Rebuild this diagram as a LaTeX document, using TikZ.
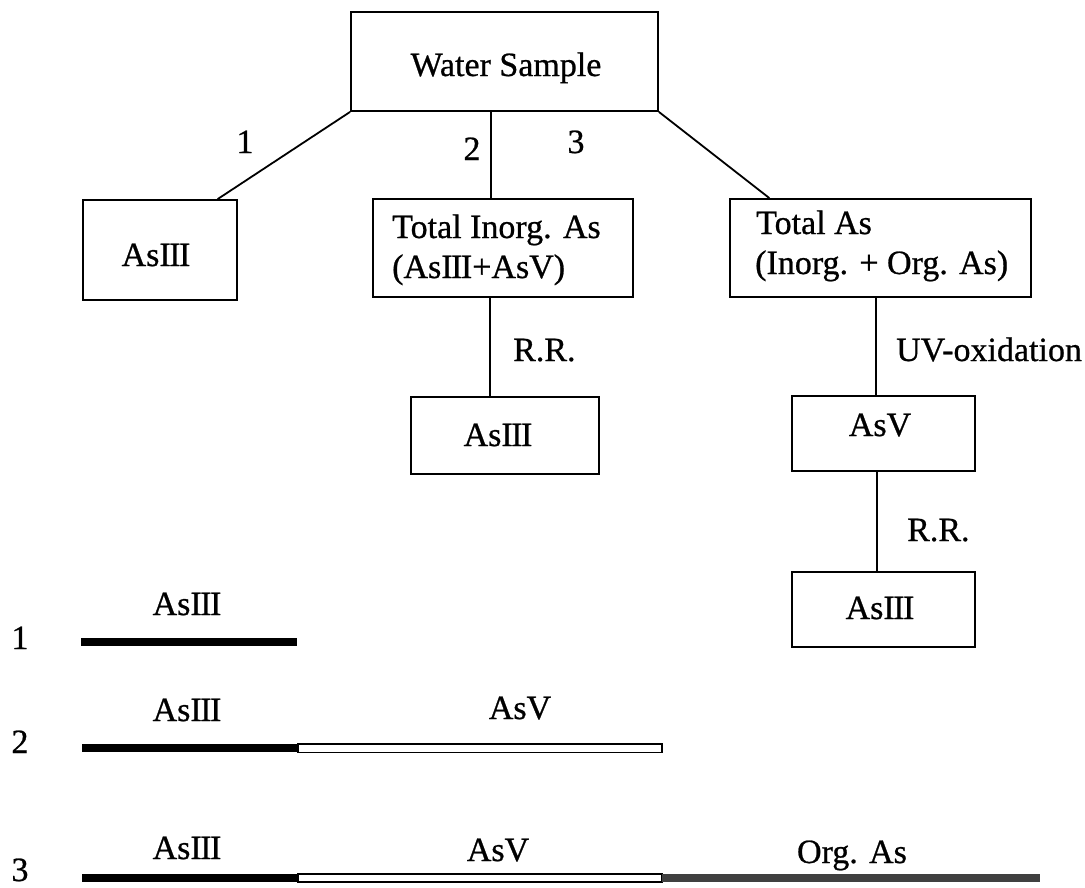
\documentclass[tikz,border=0pt]{standalone}
\usepackage{fontspec}
\setmainfont{Liberation Serif}[FakeBold=0.7]
\usetikzlibrary{calc}
\newcommand{\bigfs}{\fontsize{34}{40}\selectfont}
\newcommand{\threeI}{I\kern-1.5ptI\kern-1.5ptI}
\begin{document}
\begin{tikzpicture}[x=1pt,y=-1pt,
  box/.style={draw, line width=1.8pt, inner sep=0pt},
  conn/.style={line width=1.8pt},
  txt/.style={font=\bigfs, inner sep=0pt, anchor=base},
  txtl/.style={font=\bigfs, inner sep=0pt, anchor=base west, align=left}]
\useasboundingbox (0,0) rectangle (1085,887);
\fill[white] (0,0) rectangle (1085,887);

% boxes
\node[box, minimum width=307pt, minimum height=99pt] (ws) at (504.5,61.5) {};
\node[box, minimum width=154pt, minimum height=100pt] (a1) at (160,250) {};
\node[box, minimum width=260pt, minimum height=98pt] (inorg) at (503,248) {};
\node[box, minimum width=301pt, minimum height=98pt] (tot) at (880.5,248) {};
\node[box, minimum width=188pt, minimum height=77pt] (a2) at (505,435.5) {};
\node[box, minimum width=183pt, minimum height=75pt] (asv) at (883.5,433.5) {};
\node[box, minimum width=183pt, minimum height=75pt] (a3) at (883.5,609.5) {};

% box texts
\node[txt] (tws) at (506,76) {Water Sample};
\node[txt] (ta1) at (156,266) {As\threeI};
\node[txtl] (tinorg1) at (392,238) {Total Inorg. As};
\node[txtl] (tinorg2) at (392,278) {(As\threeI+AsV)};
\node[txtl] (ttot1) at (756,234) {Total As};
\node[txtl] (ttot2) at (755,274) {(Inorg. + Org. As)};
\node[txt] (ta2) at (498,446) {As\threeI};
\node[txt] (tasv) at (880,436) {AsV};
\node[txt] (ta3) at (880,619) {As\threeI};

% connectors
\coordinate (p1) at ($(a1.north west)!0.87!(a1.north east)$);
\draw[conn] (ws.south west) -- (p1);
\coordinate (p2) at ($(ws.south west)!0.456!(ws.south east)$);
\draw[conn] (p2) -- (p2 |- inorg.north);
\coordinate (p3) at ($(tot.north west)!0.133!(tot.north east)$);
\draw[conn] (ws.south east) -- (p3);
\coordinate (p6) at ($(a2.north west)!0.42!(a2.north east)$);
\draw[conn] (p6) -- (p6 |- inorg.south);
\coordinate (p4) at ($(asv.north west)!0.46!(asv.north east)$);
\draw[conn] (p4) -- (p4 |- tot.south);
\coordinate (p5) at ($(a3.north west)!0.465!(a3.north east)$);
\draw[conn] (p5) -- (p5 |- asv.south);

% connector labels
\node[txt] (l1) at (245,153) {1};
\node[txt] (l2) at (472,160) {2};
\node[txt] (l3) at (576,153) {3};
\node[txtl] (rr1) at (513,361) {R.R.};
\node[txtl] (uv) at (896,361) {UV-oxidation};
\node[txtl] (rr2) at (907,541) {R.R.};

% bar chart
\node[txt] (n1) at (20,649) {1};
\node[txt] (n2) at (20,753) {2};
\node[txt] (n3) at (20,881) {3};

\fill[black] (81,638) rectangle (297,646);
\node[txt] (b1a) at (187,615) {As\threeI};

\fill[black] (82,744) rectangle (298,752);
\draw[line width=1.5pt, fill=white] (298,744) rectangle (662,752.5);
\node[txt] (b2a) at (187,721) {As\threeI};
\node[txt] (b2b) at (520,719) {AsV};

\fill[black] (82,874) rectangle (298,882);
\draw[line width=1.5pt, fill=white] (298,874) rectangle (662,882);
\fill[black!75] (662,874) rectangle (1040,882);
\node[txt] (b3a) at (187,859) {As\threeI};
\node[txt] (b3b) at (498,861) {AsV};
\node[txt] (b3c) at (852,863) {Org. As};
\end{tikzpicture}
\end{document}
